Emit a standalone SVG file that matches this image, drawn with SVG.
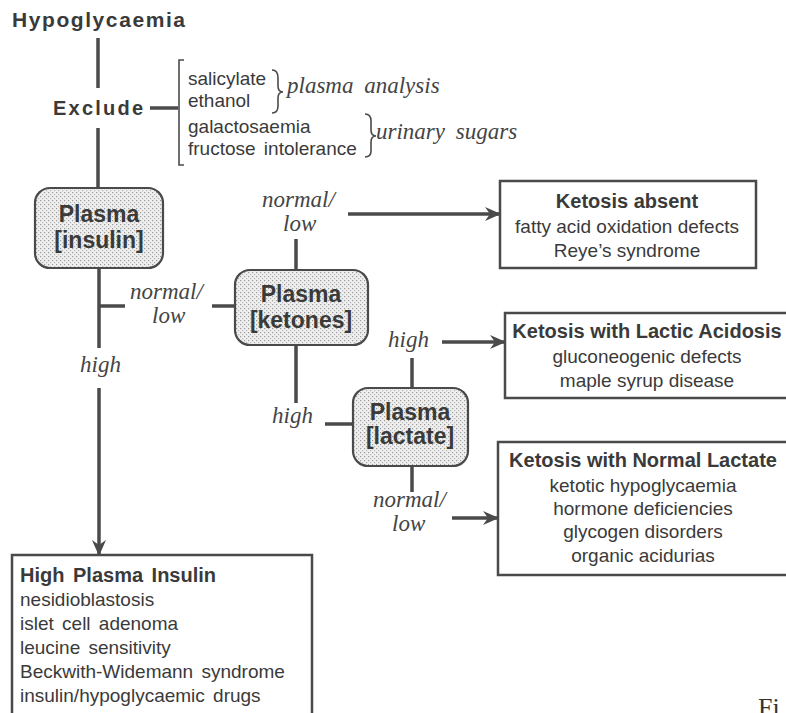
<svg xmlns="http://www.w3.org/2000/svg" width="786" height="713" viewBox="0 0 786 713">
  <defs>
    <!-- stippled fill for the test nodes -->
    <pattern id="stipple" width="4" height="4" patternUnits="userSpaceOnUse">
      <rect width="4" height="4" fill="#efefef"/>
      <rect x="0" y="0" width="1.2" height="1.2" fill="#9a9a9a"/>
      <rect x="2" y="2" width="1.2" height="1.2" fill="#b5b5b5"/>
    </pattern>
    <marker id="arrow" markerWidth="16" markerHeight="14" refX="15" refY="7" orient="auto" markerUnits="userSpaceOnUse">
      <path d="M0,0 L16,7 L0,14 L5,7 Z" fill="#4a4a4a"/>
    </marker>
    <style>
      .head { font-family: "Liberation Sans", Arial, sans-serif; font-weight: bold; fill: #3a3a3a; }
      .test { font-family: "Liberation Sans", Arial, sans-serif; font-weight: bold; font-size: 23px; fill: #3a3a3a; text-anchor: middle; }
      .body { font-family: "Liberation Sans", Arial, sans-serif; font-size: 19px; fill: #3a3a3a; }
      .mid { text-anchor: middle; }
      .lbl { font-family: "Liberation Serif", "Times New Roman", serif; font-style: italic; font-size: 23px; fill: #444; }
      .test-box { fill: url(#stipple); stroke: #4a4a4a; stroke-width: 2.2; }
      .res-box { fill: #fff; stroke: #4a4a4a; stroke-width: 2.5; }
      .wire { stroke: #4a4a4a; stroke-width: 3.5; fill: none; }
      .brace { stroke: #4a4a4a; stroke-width: 1.6; fill: none; }
    </style>
  </defs>

  <rect width="786" height="713" fill="#fff"/>

  <!-- connectors -->
  <g id="connectors">
    <line class="wire" x1="98" y1="38" x2="98" y2="88"/>
    <line class="wire" x1="98" y1="128" x2="98" y2="188"/>
    <line class="wire" x1="150" y1="108" x2="178" y2="108"/>
    <line class="wire" x1="99" y1="268" x2="99" y2="348"/>
    <line class="wire" x1="99" y1="306" x2="125" y2="306"/>
    <line class="wire" x1="99" y1="388" x2="99" y2="555" marker-end="url(#arrow)"/>
    <line class="wire" x1="212" y1="306" x2="235" y2="306"/>
    <line class="wire" x1="296" y1="239" x2="296" y2="270"/>
    <line class="wire" x1="348" y1="214" x2="500" y2="214" marker-end="url(#arrow)"/>
    <line class="wire" x1="296" y1="345" x2="296" y2="403"/>
    <line class="wire" x1="325" y1="424" x2="353" y2="424"/>
    <line class="wire" x1="412" y1="358" x2="412" y2="388"/>
    <line class="wire" x1="442" y1="342" x2="505" y2="342" marker-end="url(#arrow)"/>
    <line class="wire" x1="412" y1="466" x2="412" y2="492"/>
    <line class="wire" x1="452" y1="518" x2="498" y2="518" marker-end="url(#arrow)"/>
  </g>

  <!-- branch labels -->
  <g id="labels">
    <text class="lbl" x="130" y="299">normal/</text>
    <text class="lbl" x="152" y="323">low</text>
    <text class="lbl" x="80" y="372">high</text>
    <text class="lbl" x="262" y="207">normal/</text>
    <text class="lbl" x="283" y="231">low</text>
    <text class="lbl" x="272" y="423">high</text>
    <text class="lbl" x="388" y="347">high</text>
    <text class="lbl" x="373" y="507">normal/</text>
    <text class="lbl" x="392" y="531">low</text>
  </g>

  <g id="start">
    <text class="head" x="12" y="27" font-size="21" textLength="173" lengthAdjust="spacing">Hypoglycaemia</text>
  </g>

  <g id="exclude">
    <text class="head" x="53" y="115" font-size="20" textLength="90" lengthAdjust="spacing">Exclude</text>
    <path class="brace" d="M184,60 L179,60 L179,165 L184,165"/>
    <text class="body" x="188" y="85">salicylate</text>
    <text class="body" x="188" y="107">ethanol</text>
    <text class="body" x="188" y="133">galactosaemia</text>
    <text class="body" x="188" y="155" word-spacing="3">fructose intolerance</text>
    <path class="brace" d="M272,70 Q278,70 278,78 L278,86 Q278,92 283,92 Q278,92 278,98 L278,106 Q278,113 272,113"/>
    <text class="lbl" x="287" y="93" font-size="22" word-spacing="5">plasma analysis</text>
    <path class="brace" d="M365,114 Q371,114 371,121 L371,130 Q371,136 376,136 Q371,136 371,142 L371,151 Q371,157 365,157"/>
    <text class="lbl" x="376" y="139" font-size="22" word-spacing="5">urinary sugars</text>
  </g>

  <g id="insulin">
    <rect class="test-box" x="35" y="188" width="128" height="80" rx="15"/>
    <text class="test" x="99" y="222">Plasma</text>
    <text class="test" x="99" y="248">[insulin]</text>
  </g>

  <g id="ketones">
    <rect class="test-box" x="235" y="270" width="133" height="75" rx="15"/>
    <text class="test" x="301" y="302">Plasma</text>
    <text class="test" x="301" y="328">[ketones]</text>
  </g>

  <g id="lactate">
    <rect class="test-box" x="353" y="388" width="115" height="78" rx="15"/>
    <text class="test" x="410" y="420">Plasma</text>
    <text class="test" x="410" y="444">[lactate]</text>
  </g>

  <g id="ketosis-absent">
    <rect class="res-box" x="500" y="181" width="256" height="87"/>
    <text class="head mid" x="627" y="208" font-size="20" text-anchor="middle">Ketosis absent</text>
    <text class="body mid" x="627" y="233" font-size="20">fatty acid oxidation defects</text>
    <text class="body mid" x="627" y="257" font-size="20">Reye’s syndrome</text>
  </g>

  <g id="lactic-acidosis">
    <rect class="res-box" x="505" y="313" width="290" height="85"/>
    <text class="head mid" x="647" y="338" font-size="20" text-anchor="middle">Ketosis with Lactic Acidosis</text>
    <text class="body mid" x="647" y="363" font-size="20">gluconeogenic defects</text>
    <text class="body mid" x="647" y="387" font-size="20">maple syrup disease</text>
  </g>

  <g id="normal-lactate">
    <rect class="res-box" x="498" y="442" width="297" height="133"/>
    <text class="head mid" x="643" y="467" font-size="20" text-anchor="middle">Ketosis with Normal Lactate</text>
    <text class="body mid" x="643" y="492" font-size="20">ketotic hypoglycaemia</text>
    <text class="body mid" x="643" y="515" font-size="20">hormone deficiencies</text>
    <text class="body mid" x="643" y="538" font-size="20">glycogen disorders</text>
    <text class="body mid" x="643" y="562" font-size="20">organic acidurias</text>
  </g>

  <g id="high-insulin">
    <rect class="res-box" x="12" y="555" width="300" height="170"/>
    <text class="head" x="20" y="582" font-size="20" word-spacing="3">High Plasma Insulin</text>
    <text class="body" x="20" y="606" font-size="20">nesidioblastosis</text>
    <text class="body" x="20" y="630" font-size="20" word-spacing="3">islet cell adenoma</text>
    <text class="body" x="20" y="654" font-size="20" word-spacing="3">leucine sensitivity</text>
    <text class="body" x="20" y="678" font-size="20" word-spacing="3">Beckwith-Widemann syndrome</text>
    <text class="body" x="20" y="702" font-size="20" word-spacing="3">insulin/hypoglycaemic drugs</text>
  </g>

  <text x="758" y="716" font-family="Liberation Serif, serif" font-size="26" fill="#333">Fi</text>
</svg>
